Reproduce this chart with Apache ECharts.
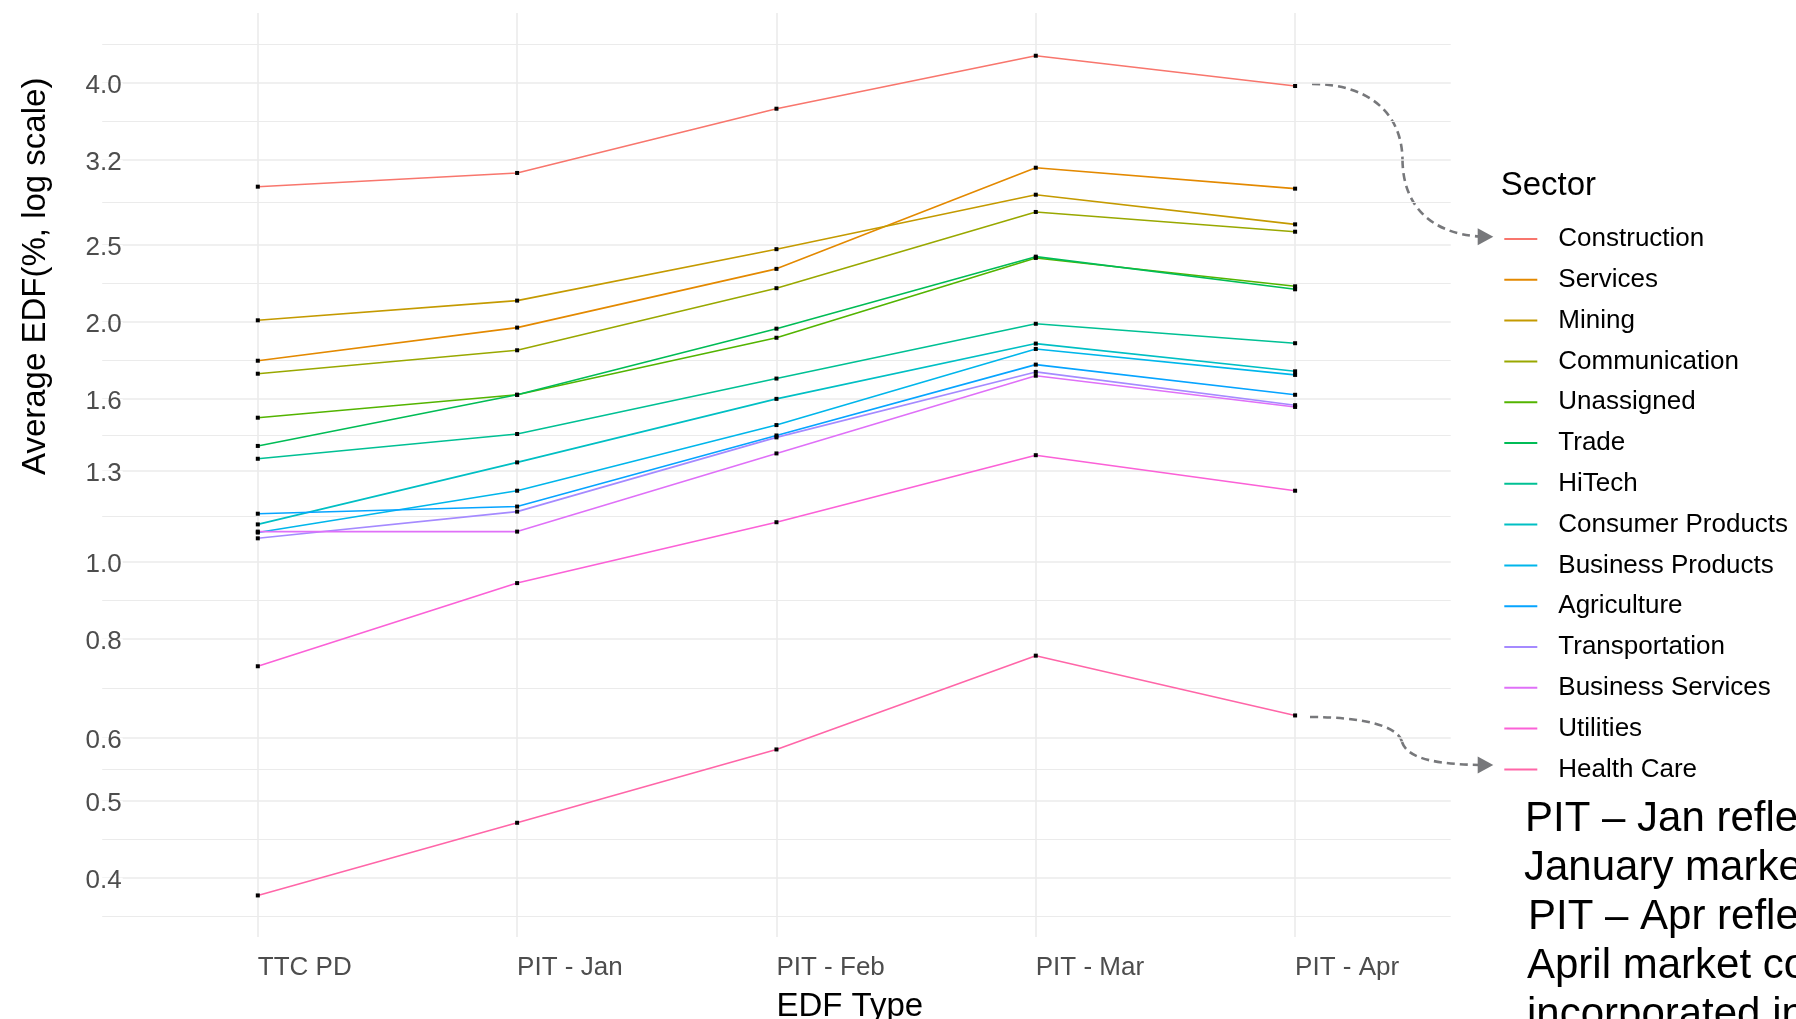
<!DOCTYPE html>
<html>
<head>
<meta charset="utf-8">
<script src="https://cdn.jsdelivr.net/npm/echarts@6/dist/echarts.min.js"></script>
<style>
  html, body { margin: 0; padding: 0; background: #fff; }
  #chart { width: 1796px; height: 1019px; }
</style>
</head>
<body>
<div id="chart"></div>
<script>
// ---- data ----
const categories = ['TTC PD', 'PIT - Jan', 'PIT - Feb', 'PIT - Mar', 'PIT - Apr'];
const sectors = ['Construction', 'Services', 'Mining', 'Communication', 'Unassigned', 'Trade', 'HiTech',
  'Consumer Products', 'Business Products', 'Agriculture', 'Transportation', 'Business Services',
  'Utilities', 'Health Care'];
const construction      = [2.960, 3.080, 3.710, 4.325, 3.962];
const services          = [1.788, 1.968, 2.333, 3.127, 2.943];
const mining            = [2.010, 2.128, 2.470, 2.892, 2.654];
const communication     = [1.722, 1.843, 2.206, 2.751, 2.598];
const unassigned        = [1.516, 1.620, 1.911, 2.408, 2.218];
const trade             = [1.397, 1.620, 1.962, 2.417, 2.199];
const hiTech            = [1.346, 1.446, 1.698, 1.990, 1.881];
const consumerProducts  = [1.113, 1.332, 1.601, 1.879, 1.734];
const businessProducts  = [1.087, 1.227, 1.484, 1.850, 1.716];
const agriculture       = [1.148, 1.172, 1.440, 1.768, 1.620];
const transportation    = [1.069, 1.155, 1.432, 1.731, 1.572];
const businessServices  = [1.090, 1.090, 1.367, 1.712, 1.564];
const utilities         = [0.738, 0.939, 1.120, 1.360, 1.227];
const healthCare        = [0.380, 0.469, 0.580, 0.761, 0.640];
const yTicks = [0.4, 0.5, 0.6, 0.8, 1.0, 1.3, 1.6, 2.0, 2.5, 3.2, 4.0];
const annotationLines = ['PIT \u2013 Jan refle', 'January marke', 'PIT \u2013 Apr refle', 'April market co', 'incorporated in'];

// ---- styling ----
const seriesValues = [construction, services, mining, communication, unassigned, trade, hiTech,
  consumerProducts, businessProducts, agriculture, transportation, businessServices, utilities, healthCare];
const palette = ['#F8766D', '#E38900', '#C49A00', '#99A800', '#53B400', '#00BC56', '#00C094',
  '#00BFC4', '#00B6EB', '#06A4FF', '#A58AFF', '#DF70F8', '#FB61D7', '#FF66A8'];
const FONT = '"Liberation Sans", Arial, Helvetica, sans-serif';
const GRID = '#EBEBEB';
const yMin = 0.3369, yMax = 4.895;

// minor grid lines at geometric midpoints of the major breaks (plus one beyond each end)
const yMinor = [];
yMinor.push(yTicks[0] / Math.sqrt(yTicks[1] / yTicks[0]));
for (let i = 0; i < yTicks.length - 1; i++) yMinor.push(Math.sqrt(yTicks[i] * yTicks[i + 1]));
const nT = yTicks.length;
yMinor.push(yTicks[nT - 1] * Math.sqrt(yTicks[nT - 1] / yTicks[nT - 2]));

const xIdx = categories.map((c, i) => i);

const logAxisBase = {
  type: 'log', logBase: 10, min: yMin, max: yMax,
  axisLine: { show: false }, minorTick: { show: false }, minorSplitLine: { show: false }
};

const chart = echarts.init(document.getElementById('chart'), null, { renderer: 'canvas' });

const series = sectors.map((name, k) => ({
  name: name,
  type: 'line',
  data: seriesValues[k].map((v, i) => [i, v]),
  symbol: 'rect',
  symbolSize: 4,
  showSymbol: true,
  itemStyle: { color: '#000' },
  lineStyle: { color: palette[k], width: 1.6 },
  emphasis: { disabled: true },
  z: 3
}));

const arrowColor = '#77787B';
const dashStyle = { stroke: arrowColor, lineWidth: 2.6, lineDash: [8, 5], fill: null };
const annoX = [1525, 1524, 1528, 1527, 1527];
const annoY = [819, 868, 917, 966, 1015];

chart.setOption({
  animation: false,
  backgroundColor: '#ffffff',
  textStyle: { fontFamily: FONT },
  grid: { left: 102.2, right: 345.3, top: 13, bottom: 82, containLabel: false, outerBoundsMode: 'none' },
  xAxis: {
    type: 'value', min: -0.6, max: 4.6,
    axisLine: { show: false },
    axisTick: { show: false, customValues: xIdx },
    axisLabel: {
      customValues: xIdx,
      formatter: v => categories[Math.round(v)],
      align: 'left', margin: 18, fontSize: 26, color: '#4D4D4D', fontFamily: FONT
    },
    splitLine: { show: true, lineStyle: { color: GRID, width: 1.6 } },
    name: 'EDF Type', nameLocation: 'middle', nameGap: 69.5,
    nameTextStyle: { align: 'left', verticalAlign: 'middle', fontSize: 33, color: '#000', fontFamily: FONT }
  },
  yAxis: [
    Object.assign({}, logAxisBase, {
      z: 5,
      axisTick: { show: false, customValues: yTicks },
      axisLabel: {
        customValues: yTicks,
        formatter: v => Number(v).toFixed(1),
        margin: -20.5, align: 'right', verticalAlign: 'top', lineHeight: 6,
        fontSize: 26, color: '#4D4D4D', fontFamily: FONT,
        backgroundColor: '#ffffff', padding: [0, 1, 0, 2]
      },
      splitLine: { show: false },
      name: 'Average EDF(%, log scale)', nameLocation: 'middle', nameGap: 66, nameRotate: 90,
      nameTextStyle: { align: 'left', verticalAlign: 'middle', fontSize: 33, color: '#000', fontFamily: FONT }
    }),
    Object.assign({}, logAxisBase, {
      z: 0,
      axisTick: { show: false, customValues: yTicks },
      axisLabel: { show: false, customValues: yTicks },
      splitLine: { show: true, lineStyle: { color: GRID, width: 1.6 } }
    }),
    Object.assign({}, logAxisBase, {
      z: 0,
      axisTick: { show: false, customValues: yMinor },
      axisLabel: { show: false, customValues: yMinor },
      splitLine: { show: true, lineStyle: { color: GRID, width: 1.2 } }
    })
  ],
  legend: {
    orient: 'vertical', left: 1503.3, top: 224, padding: 0,
    itemWidth: 33, itemHeight: 14, itemGap: 10.8,
    itemStyle: { color: 'rgba(0,0,0,0)', borderWidth: 0 },
    textStyle: { fontSize: 26, lineHeight: 30, color: '#000', fontFamily: FONT, padding: [0, 0, 0, 16] },
    selectedMode: false,
    data: sectors
  },
  graphic: [
    { type: 'text', left: 1500.7, top: 169.6, style: { text: 'Sector', font: '33px ' + FONT, fill: '#000' } },
    // upper arrow
    { type: 'bezierCurve', shape: { x1: 1312, y1: 84, cpx1: 1365, cpy1: 84, cpx2: 1402, cpy2: 110, x2: 1402.5, y2: 160 }, style: dashStyle, silent: true },
    { type: 'bezierCurve', shape: { x1: 1402.5, y1: 160, cpx1: 1403, cpy1: 205, cpx2: 1430, cpy2: 233, x2: 1479, y2: 236.5 }, style: dashStyle, silent: true },
    { type: 'polygon', shape: { points: [[1477.7, 228.2], [1493.3, 236.7], [1477.7, 245.2]] }, style: { fill: arrowColor }, silent: true },
    // lower arrow
    { type: 'bezierCurve', shape: { x1: 1310, y1: 717, cpx1: 1360, cpy1: 717, cpx2: 1398, cpy2: 725, x2: 1402, y2: 742 }, style: dashStyle, silent: true },
    { type: 'bezierCurve', shape: { x1: 1402, y1: 742, cpx1: 1408, cpy1: 760, cpx2: 1440, cpy2: 764, x2: 1479, y2: 765 }, style: dashStyle, silent: true },
    { type: 'polygon', shape: { points: [[1477.7, 756.5], [1493.3, 765], [1477.7, 773.5]] }, style: { fill: arrowColor }, silent: true }
  ].concat(annotationLines.map((t, i) => ({
    type: 'text', x: annoX[i], y: annoY[i],
    style: { text: t, font: '42px ' + FONT, fill: '#000', verticalAlign: 'middle' }
  }))),
  series: series
});
</script>
</body>
</html>
